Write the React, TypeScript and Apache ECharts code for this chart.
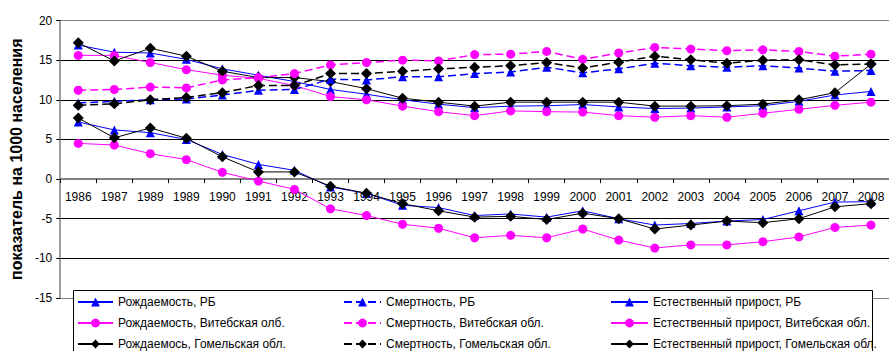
import React, { useEffect, useRef } from "react";
import * as echarts from "echarts";

const years = ["1986","1987","1989","1989","1990","1991","1992","1993","1994","1995","1996","1997","1998","1999","2000","2001","2002","2003","2004","2005","2006","2007","2008"];

const birthRB = [16.9, 16.0, 15.9, 15.1, 13.9, 13.1, 12.3, 11.3, 10.7, 10.0, 9.45, 9.0, 9.2, 9.25, 9.4, 9.1, 8.9, 8.95, 9.1, 9.25, 9.8, 10.6, 11.05];
const birthVit = [15.6, 15.6, 14.7, 13.8, 13.1, 12.7, 11.8, 10.4, 10.0, 9.2, 8.5, 8.0, 8.6, 8.5, 8.45, 8.0, 7.8, 8.0, 7.8, 8.3, 8.8, 9.3, 9.7];
const birthGom = [17.2, 14.9, 16.5, 15.5, 13.6, 12.8, 12.8, 12.3, 11.4, 10.2, 9.7, 9.2, 9.7, 9.7, 9.7, 9.7, 9.2, 9.2, 9.25, 9.45, 10.0, 10.9, 14.5];
const deathRB = [9.6, 9.8, 10.0, 10.1, 10.6, 11.2, 11.3, 12.6, 12.5, 12.9, 12.9, 13.3, 13.5, 14.1, 13.4, 13.9, 14.6, 14.3, 14.1, 14.3, 14.0, 13.6, 13.7];
const deathVit = [11.2, 11.3, 11.6, 11.5, 12.5, 12.8, 13.3, 14.4, 14.7, 15.0, 14.9, 15.7, 15.75, 16.1, 15.1, 15.9, 16.6, 16.4, 16.2, 16.3, 16.1, 15.5, 15.75];
const deathGom = [9.3, 9.5, 10.0, 10.3, 10.9, 11.8, 11.8, 13.3, 13.3, 13.6, 13.9, 14.1, 14.3, 14.7, 14.0, 14.75, 15.5, 15.05, 14.6, 15.0, 15.05, 14.4, 14.5];
const natRB = [7.2, 6.2, 5.85, 5.0, 3.1, 1.85, 1.1, -1.0, -1.8, -3.3, -3.6, -4.6, -4.4, -4.8, -4.0, -5.0, -5.8, -5.6, -5.3, -5.1, -4.0, -2.9, -2.85];
const natVit = [4.5, 4.3, 3.2, 2.45, 0.85, -0.25, -1.3, -3.75, -4.6, -5.7, -6.2, -7.4, -7.1, -7.4, -6.3, -7.7, -8.7, -8.3, -8.3, -7.9, -7.3, -6.1, -5.8];
const natGom = [7.7, 5.2, 6.45, 5.15, 2.8, 0.9, 0.9, -0.9, -1.8, -3.1, -4.0, -4.8, -4.7, -5.1, -4.3, -5.0, -6.3, -5.8, -5.3, -5.5, -5.0, -3.5, -3.1];

const names = {
  bRB: "Рождаемость, РБ",
  bVit: "Рождаемость, Витебская олб.",
  bGom: "Рождаемось, Гомельская обл.",
  dRB: "Смертность, РБ",
  dVit: "Смертность, Витебская обл.",
  dGom: "Смертность, Гомельская обл.",
  nRB: "Естественный прирост, РБ",
  nVit: "Естественный прирост, Витебская обл.",
  nGom: "Естественный прирост, Гомельская обл.",
};

const yAxisTitle = "показатель на 1000 населения";
const Y_MIN = -15;
const Y_MAX = 20;

const FONT = "'Liberation Sans', Arial, sans-serif";
const BLUE = "#0000ff";
const PINK = "#ff00ff";
const BLACK = "#000000";

const GRID_TOP = 20.5;
const GRID_H = 277.5;

function mk(name: string, data: number[], color: string, symbol: string, size: number, dashed: boolean) {
  return {
    name,
    type: "line",
    data,
    symbol,
    symbolSize: size,
    showSymbol: true,
    itemStyle: { color, borderWidth: 0 },
    lineStyle: { color, width: dashed ? 1.5 : 1, type: dashed ? [8, 4] : "solid" },
    emphasis: { disabled: true },
  };
}

export default function App() {
  const ref = useRef<HTMLDivElement>(null);
  useEffect(() => {
    document.body.style.margin = "0";
    const chart = echarts.init(ref.current!, null, { renderer: "svg" });
    const legendBase = {
      orient: "vertical",
      top: 295,
      itemHeight: 11,
      itemGap: 7,
      padding: 0,
      z: 20,
      textStyle: { fontSize: 12, fontFamily: FONT, color: "#000", lineHeight: 14 },
      selectedMode: false,
    };
    // distance from the bottom of the grid to the zero line
    const zeroOffset = -(GRID_H * (0 - Y_MIN)) / (Y_MAX - Y_MIN);
    chart.setOption({
      animation: false,
      backgroundColor: "#fff",
      grid: { left: 56, top: GRID_TOP, width: 843, height: GRID_H, containLabel: false },
      xAxis: {
        type: "category",
        data: years,
        boundaryGap: true,
        position: "bottom",
        offset: zeroOffset,
        axisLine: { show: true, onZero: false, lineStyle: { color: "#808080", width: 2 } },
        axisTick: { show: true, length: 4, lineStyle: { color: "#000" } },
        axisLabel: { interval: 0, margin: 12, fontSize: 12, color: "#000", fontFamily: FONT },
        splitLine: { show: false },
        z: 3,
      },
      yAxis: {
        type: "value",
        min: Y_MIN,
        max: Y_MAX,
        interval: 5,
        name: yAxisTitle,
        nameLocation: "middle",
        nameGap: 32,
        nameTextStyle: { fontSize: 16, fontWeight: "bold", fontFamily: FONT, color: "#000" },
        axisLine: { show: true, lineStyle: { color: "#808080", width: 1.5 } },
        axisTick: { show: true, length: 4, lineStyle: { color: "#000" } },
        axisLabel: { margin: 8, fontSize: 12, color: "#000", fontFamily: FONT },
        splitLine: {
          show: true,
          lineStyle: {
            color: ["#808080", "#000", "#000", "#808080", "#000", "#000", "#000", "#808080"],
            width: 1,
          },
        },
      },
      legend: [
        { ...legendBase, left: 77, itemWidth: 35, data: [names.bRB, names.bVit, names.bGom] },
        { ...legendBase, left: 343, itemWidth: 37, data: [names.dRB, names.dVit, names.dGom] },
        { ...legendBase, left: 610, itemWidth: 37, data: [names.nRB, names.nVit, names.nGom] },
      ],
      graphic: [
        {
          type: "rect",
          z: 15,
          shape: { x: 73.5, y: 290.5, width: 799, height: 80 },
          style: { fill: "#fff", stroke: "#000", lineWidth: 1 },
        },
      ],
      series: [
        mk(names.bRB, birthRB, BLUE, "triangle", 9, false),
        mk(names.bVit, birthVit, PINK, "circle", 9, false),
        mk(names.bGom, birthGom, BLACK, "diamond", 11, false),
        mk(names.dRB, deathRB, BLUE, "triangle", 9, true),
        mk(names.dVit, deathVit, PINK, "circle", 9, true),
        mk(names.dGom, deathGom, BLACK, "diamond", 11, true),
        mk(names.nRB, natRB, BLUE, "triangle", 9, false),
        mk(names.nVit, natVit, PINK, "circle", 9, false),
        mk(names.nGom, natGom, BLACK, "diamond", 11, false),
      ],
    });
    return () => chart.dispose();
  }, []);
  return <div ref={ref} style={{ position: "absolute", left: 0, top: 0, width: 889, height: 351 }} />;
}
